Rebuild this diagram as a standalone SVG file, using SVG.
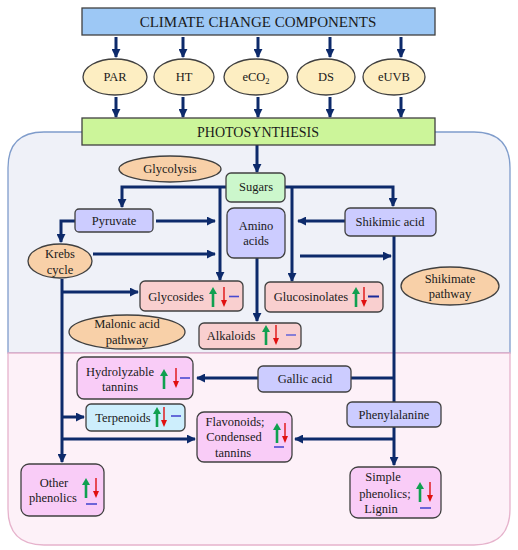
<svg xmlns="http://www.w3.org/2000/svg" width="518" height="550" viewBox="0 0 518 550">
<style>
text{font-family:"Liberation Serif","Times New Roman",serif;font-size:12.5px;fill:#1a1a1a;text-anchor:middle}
.box{stroke:#404040;stroke-width:1.3}
.lav{fill:#ccccff}
.pink{fill:#f9cfcf}
.mag{fill:#f9ccf7}
.ell{fill:#fdeec2;stroke:#404040;stroke-width:1.3}
.peach{fill:#f8d0a8;stroke:#404040;stroke-width:1.3}
.con{fill:none;stroke:#0d2a6b;stroke-width:3}
.arr{marker-end:url(#ah)}
</style>
<defs>
<marker id="ah" viewBox="0 0 10 10" refX="9" refY="5" markerWidth="3" markerHeight="3" orient="auto" markerUnits="strokeWidth">
<path d="M0,0 L10,5 L0,10 z" fill="#0d2a6b"/>
</marker>
<g id="up"><line x1="0" y1="6" x2="0" y2="20" stroke="#10a050" stroke-width="2.6"/><polygon points="-4,7 4,7 0,0" fill="#10a050"/></g>
<g id="dn"><line x1="0" y1="0" x2="0" y2="14" stroke="#e01010" stroke-width="1.4"/><polygon points="-3,13 3,13 0,20" fill="#e01010"/></g>
<g id="trR"><use href="#up"/><use href="#dn" x="11"/><line x1="16" y1="9.5" x2="26" y2="9.5" stroke="#4a4ad0" stroke-width="1.6"/></g>
<g id="trB"><use href="#up"/><use href="#dn" x="10"/><line x1="0" y1="26" x2="11" y2="26" stroke="#4a4ad0" stroke-width="1.6"/></g>
</defs>
<rect width="518" height="550" fill="#ffffff"/>
<g id="panels">
<path d="M8,353 V168 Q8,132 44,132 H474 Q510,132 510,168 V353 Z" fill="#eff1f8" stroke="#7f9ccb" stroke-width="1.3"/>
<path d="M8,353 V509 Q8,545 44,545 H474 Q510,545 510,509 V353 Z" fill="#fdf1f8" stroke="#e6b3cc" stroke-width="1.3"/>
</g>
<g id="connectors">
<path class="con arr" d="M116,37 V57"/>
<path class="con arr" d="M183,37 V57"/>
<path class="con arr" d="M258,37 V57"/>
<path class="con arr" d="M330,37 V57"/>
<path class="con arr" d="M401,37 V57"/>
<path class="con arr" d="M116,97 V117"/>
<path class="con arr" d="M183,97 V117"/>
<path class="con arr" d="M258,97 V117"/>
<path class="con arr" d="M330,97 V117"/>
<path class="con arr" d="M401,97 V117"/>
<path class="con arr" d="M257,145 V172"/>
<path class="con arr" d="M226,187 H122 V207"/>
<path class="con arr" d="M285,187 H393 V206"/>
<path class="con arr" d="M220,187 V280"/>
<path class="con arr" d="M292,187 V281"/>
<path class="con arr" d="M156,221 H215"/>
<path class="con arr" d="M93,254 H215"/>
<path class="con arr" d="M345,221 H298"/>
<path class="con arr" d="M300,256 H391"/>
<path class="con" d="M394,236 V402"/>
<path class="con" d="M351,378 H394"/>
<path class="con arr" d="M258,378 H197"/>
<path class="con arr" d="M257,258 V321"/>
<path class="con arr" d="M75,221 H61 V242"/>
<path class="con arr" d="M62,279 V462"/>
<path class="con arr" d="M62,292 H138"/>
<path class="con arr" d="M62,417 H84"/>
<path class="con arr" d="M62,439 H195"/>
<path class="con arr" d="M394,427 V465"/>
<path class="con arr" d="M394,439 H295"/>
</g>
<g id="climate"><rect class="box" x="82" y="8" width="353" height="27" fill="#9dc8f5" stroke="#4a6f9c"/><text x="258" y="27" style="font-size:15px">CLIMATE CHANGE COMPONENTS</text></g>
<g id="par"><ellipse class="ell" cx="115" cy="77" rx="32" ry="18"/><text x="115" y="81">PAR</text></g>
<g id="ht"><ellipse class="ell" cx="184" cy="77" rx="30" ry="18"/><text x="184" y="81">HT</text></g>
<g id="eco2"><ellipse class="ell" cx="256" cy="77" rx="32" ry="18"/><text x="256" y="81">eCO<tspan style="font-size:8.5px" dy="3">2</tspan></text></g>
<g id="ds"><ellipse class="ell" cx="326" cy="77" rx="29" ry="18"/><text x="326" y="81">DS</text></g>
<g id="euvb"><ellipse class="ell" cx="394" cy="77" rx="31" ry="18"/><text x="394" y="81">eUVB</text></g>
<g id="photo"><rect class="box" x="82" y="118" width="353" height="27" fill="#ccf59a"/><text x="258" y="137" style="font-size:14px">PHOTOSYNTHESIS</text></g>
<g id="glycolysis"><ellipse class="peach" cx="170" cy="169" rx="51" ry="13"/><text x="170" y="173">Glycolysis</text></g>
<g id="sugars"><rect class="box" x="226" y="173" width="59" height="29" rx="5" fill="#ccf7cc"/><text x="256" y="191">Sugars</text></g>
<g id="amino"><rect class="box lav" x="227" y="208" width="58" height="50" rx="7"/><text x="256" y="230">Amino</text><text x="256" y="245">acids</text></g>
<g id="pyruvate"><rect class="box lav" x="75" y="209" width="78" height="23" rx="4"/><text x="114" y="225">Pyruvate</text></g>
<g id="shikimic"><rect class="box lav" x="345" y="208" width="91" height="28" rx="5"/><text x="390" y="226">Shikimic acid</text></g>
<g id="krebs"><ellipse class="peach" cx="60" cy="261" rx="32" ry="17"/><text x="60" y="258">Krebs</text><text x="60" y="274">cycle</text></g>
<g id="glycosides"><rect class="box pink" x="140" y="281" width="103" height="30" rx="5"/><text x="176" y="301">Glycosides</text><use href="#trR" x="213" y="287"/></g>
<g id="glucosinolates"><rect class="box pink" x="265" y="282" width="118" height="30" rx="5"/><text x="311" y="301">Glucosinolates</text><use href="#up" x="356" y="287"/><use href="#dn" x="364" y="287"/><line x1="368" y1="296.5" x2="379" y2="296.5" stroke="#1a2a9a" stroke-width="2"/></g>
<g id="shikimate"><ellipse class="peach" cx="450" cy="286" rx="49" ry="19"/><text x="450" y="283">Shikimate</text><text x="450" y="298">pathway</text></g>
<g id="malonic"><ellipse class="peach" cx="127" cy="332" rx="58" ry="17"/><text x="127" y="328">Malonic acid</text><text x="127" y="344">pathway</text></g>
<g id="alkaloids"><rect class="box pink" x="199" y="323" width="102" height="26" rx="5"/><text x="231" y="340">Alkaloids</text><use href="#up" x="266" y="325"/><use href="#dn" x="276" y="325"/><line x1="286" y1="335" x2="296" y2="335" stroke="#6a6ad8" stroke-width="1.6"/></g>
<g id="hydrolyzable"><rect class="box mag" x="77" y="357" width="116" height="42" rx="7"/><text x="120" y="376">Hydrolyzable</text><text x="120" y="391">tannins</text><use href="#up" x="164" y="369"/><use href="#dn" x="176" y="368"/><line x1="180" y1="378" x2="190" y2="378" stroke="#4a4ad0" stroke-width="1.6"/></g>
<g id="gallic"><rect class="box lav" x="258" y="366" width="93" height="26" rx="5"/><text x="305" y="383">Gallic acid</text></g>
<g id="terpenoids"><rect class="box" x="86" y="404" width="99" height="27" rx="5" fill="#cdeefc"/><text x="123" y="422">Terpenoids</text><use href="#up" x="157" y="407"/><use href="#dn" x="164" y="407"/><line x1="171" y1="416" x2="181" y2="416" stroke="#4a4ad0" stroke-width="1.6"/></g>
<g id="phenylalanine"><rect class="box lav" x="347" y="402" width="94" height="25" rx="5"/><text x="394" y="419">Phenylalanine</text></g>
<g id="flavonoids"><rect class="box mag" x="197" y="412" width="95" height="50" rx="7"/><text x="235" y="426">Flavonoids;</text><text x="234" y="441">Condensed</text><text x="233" y="457">tannins</text><use href="#up" x="277" y="423"/><use href="#dn" x="285" y="423"/><line x1="274" y1="447" x2="284" y2="447" stroke="#4a4ad0" stroke-width="1.6"/></g>
<g id="other"><rect class="box mag" x="21" y="464" width="83" height="52" rx="8"/><text x="54" y="487">Other</text><text x="53" y="502">phenolics</text><use href="#trB" x="86" y="478" transform="translate(0,0)"/></g>
<g id="simple"><rect class="box mag" x="350" y="467" width="91" height="51" rx="8"/><text x="383" y="481">Simple</text><text x="385" y="498">phenolics;</text><text x="381" y="513">Lignin</text><use href="#trB" x="420" y="482"/></g>
</svg>
